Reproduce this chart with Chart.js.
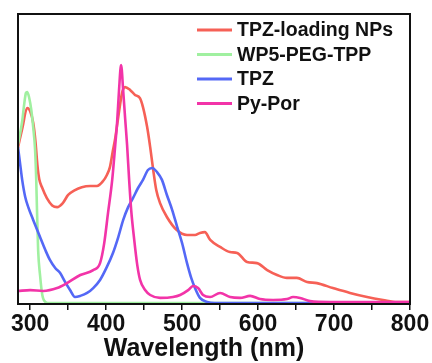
<!DOCTYPE html>
<html>
<head>
<meta charset="utf-8">
<style>
  html, body { margin: 0; padding: 0; background: #fff; }
  #c { display: block; }
</style>
<script src="https://cdn.jsdelivr.net/npm/chart.js@4/dist/chart.umd.min.js"></script>
</head>
<body>
<canvas id="c" width="432" height="363"></canvas>
<script>
// ---- data (wavelength in nm, absorbance in arbitrary units) ----
const seriesLabels = ["TPZ-loading NPs", "WP5-PEG-TPP", "TPZ", "Py-Por"];
const xTickValues = [300, 400, 500, 600, 700, 800];
const xMinorTicks = [350, 450, 550, 650, 750];
const xTitle = "Wavelength (nm)";

const redWl  = [284, 290, 296, 300, 304, 307, 309.5, 312, 316, 322, 329, 335.5, 343, 350, 359, 368, 379, 388, 396, 401, 405, 409, 412, 416, 421, 425, 431.5, 438, 444.5, 448.5, 454, 458, 462, 466, 471, 480, 493, 506.5, 517, 523.5, 530, 537, 550, 563, 572.5, 585.5, 598.5, 612, 625, 638, 651, 664.5, 677.5, 698.5, 721, 743.5, 764.5, 783, 800];
const redAbs = [54, 61, 67.6, 66.5, 62.5, 56, 48, 43, 40, 36.5, 34, 33.4, 34.8, 37.6, 39.3, 40.3, 40.7, 40.7, 42.4, 44.5, 47.2, 53, 57.2, 64.5, 72.8, 74.8, 73.8, 72.1, 71, 67.9, 61, 54.1, 46.2, 39.3, 34.8, 30, 25.5, 23.8, 23.8, 24.5, 24.8, 22.1, 19.7, 17.9, 17.6, 14.5, 14.1, 11.7, 10, 9, 9, 7.6, 7.2, 5.5, 3.8, 2.4, 1.4, 0.7, 0.7];

const greenWl  = [284, 289.5, 292, 294.5, 296, 298.5, 301.5, 304, 306.5, 308, 309, 310.5, 313, 316, 320, 326, 400, 500, 600, 700, 800];
const greenAbs = [55, 63, 68.6, 72.8, 73.1, 71.4, 66.9, 61, 53.1, 42.8, 32.4, 18.6, 10, 3.1, 0.7, 0.3, 0.3, 0.3, 0.3, 0.3, 0.3];

const blueWl  = [284, 287, 289.5, 293.5, 297.5, 304, 313, 320, 326, 333, 339.5, 346, 352.5, 359, 366, 375, 383, 392, 401, 409, 416, 422.5, 429, 435.5, 442, 448.5, 455, 460.5, 467, 473.5, 480, 487, 493.5, 500, 506.5, 512, 517, 523.5, 533, 543, 600, 700, 800];
const blueAbs = [54.1, 47.9, 42.8, 36.9, 33.4, 29, 23.1, 18.6, 15.2, 12.4, 10.7, 7.6, 4.8, 2.4, 2.8, 3.8, 5.5, 8.3, 12.8, 17.6, 23.1, 29, 33.4, 36.6, 40, 42.8, 46.2, 46.9, 45.5, 42.8, 37.6, 32.4, 26.6, 21, 14.1, 9, 5.5, 2.1, 0.7, 0.3, 0.3, 0.3, 0.3];

const pinkWl  = [284, 300, 317, 335.5, 348.5, 366, 383, 392, 397.5, 402.5, 408, 412, 414.5, 417, 419.7, 422.4, 425, 427.6, 430.3, 433, 437, 441, 444.7, 451.3, 458, 471, 488, 497.4, 508, 514.5, 521, 527.6, 536.8, 550, 563.2, 576.3, 589.5, 602.6, 619.7, 638.2, 646, 655.3, 668.4, 694.7, 800];
const pinkAbs = [4.5, 4.8, 4.5, 5.5, 7.2, 10, 11.7, 14.1, 21, 31.4, 42.8, 54.8, 62.8, 73.8, 82.4, 73.8, 64.1, 54.8, 42.8, 32.4, 22.1, 13.4, 8.3, 4.8, 3.1, 2.1, 2.4, 3.1, 4.8, 6.2, 5.5, 3.1, 2.4, 3.8, 2.4, 2.1, 2.8, 1.7, 1.4, 1.7, 2.4, 2.1, 1.0, 0.7, 0.7];

const seriesColors = ["rgb(246,96,86)", "rgb(160,240,160)", "rgb(84,104,246)", "rgb(242,52,168)"];

function pts(xs, ys) { return xs.map((x, i) => ({ x: x, y: ys[i] })); }

const FONT = '"Liberation Sans", Arial, sans-serif';

const frameAndLegend = {
  id: 'frameAndLegend',
  afterDraw(chart) {
    const ctx = chart.ctx;
    const a = chart.chartArea;
    ctx.save();
    // frame
    ctx.strokeStyle = '#111';
    ctx.lineWidth = 2;
    ctx.strokeRect(a.left, a.top, a.right - a.left, a.bottom - a.top);
    // legend inside top-right
    ctx.font = 'bold 19.5px ' + FONT;
    ctx.textBaseline = 'middle';
    ctx.textAlign = 'left';
    chart.data.datasets.forEach((ds, i) => {
      const y = a.top + 16 + i * 24.5;
      ctx.strokeStyle = ds.borderColor;
      ctx.lineWidth = 3;
      ctx.beginPath();
      ctx.moveTo(a.left + 179, y);
      ctx.lineTo(a.left + 214, y);
      ctx.stroke();
      ctx.fillStyle = '#111';
      ctx.fillText(ds.label, a.left + 219, y + 1);
    });
    // x-axis title
    ctx.font = 'bold 25px ' + FONT;
    ctx.textAlign = 'center';
    ctx.textBaseline = 'middle';
    ctx.fillStyle = '#111';
    ctx.fillText(xTitle, a.left + 186, 349);
    ctx.restore();
  }
};

const datasets = seriesLabels.map((lab, i) => {
  const xs = [redWl, greenWl, blueWl, pinkWl][i];
  const ys = [redAbs, greenAbs, blueAbs, pinkAbs][i];
  return {
    label: lab,
    data: pts(xs, ys),
    borderColor: seriesColors[i],
    backgroundColor: seriesColors[i],
    borderWidth: 2.6,
    pointRadius: 0,
    fill: false,
    cubicInterpolationMode: 'monotone',
    order: [3, 2, 1, 0][i]
  };
});

new Chart(document.getElementById('c'), {
  type: 'line',
  data: { datasets: datasets },
  options: {
    responsive: false,
    animation: false,
    events: [],
    layout: { padding: { left: 18, right: 22, top: 14, bottom: 0 } },
    plugins: { legend: { display: false }, tooltip: { enabled: false } },
    scales: {
      x: {
        type: 'linear',
        min: 284,
        max: 800,
        afterBuildTicks(scale) {
          scale.ticks = xTickValues.concat(xMinorTicks)
            .sort((p, q) => p - q)
            .map(v => ({ value: v }));
        },
        afterFit(scale) {
          scale.height = 59;
          scale.paddingLeft = 0;
          scale.paddingRight = 0;
        },
        ticks: {
          autoSkip: false,
          maxRotation: 0,
          padding: 1,
          color: '#111',
          font: { family: FONT, size: 23, weight: 'bold' },
          callback: (v) => xTickValues.includes(v) ? String(v) : ''
        },
        grid: {
          drawOnChartArea: false,
          drawTicks: true,
          tickLength: 6,
          color: '#111',
          lineWidth: 1.5
        },
        border: { display: false }
      },
      y: {
        display: false,
        min: 0,
        max: 100
      }
    }
  },
  plugins: [frameAndLegend]
});
</script>
</body>
</html>
